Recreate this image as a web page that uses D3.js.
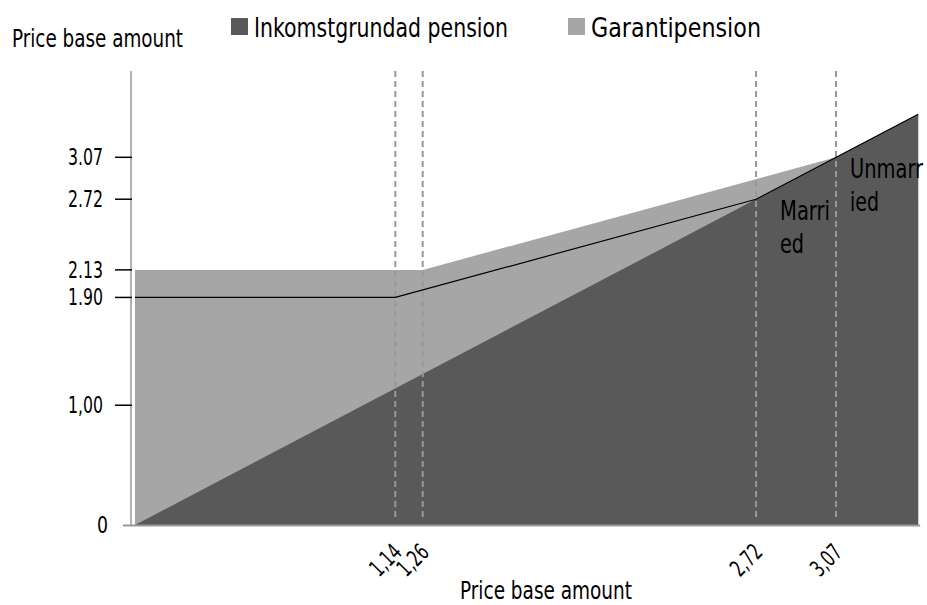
<!DOCTYPE html>
<html><head><meta charset="utf-8">
<script src="https://cdn.jsdelivr.net/npm/d3@7"></script>
<style>
body{margin:0;background:#fff;}
svg text{font-family:"DejaVu Sans Condensed","DejaVu Sans",sans-serif;font-stretch:condensed;fill:#000;}
</style></head>
<body>
<svg id="chart" width="927" height="605"></svg>
<script>
// Data
const xMax = 3.43;
const inkomstgrundad = [[0,0],[3.43,3.43]];
const garanti = [[0,2.13],[1.26,2.13],[3.07,3.07],[3.43,3.43]];
const marriedLine = [[0,1.90],[1.14,1.90],[2.72,2.72],[3.43,3.43]];
const yTicks = [0,1.00,1.90,2.13,2.72,3.07];
const yTickLabels = ["0","1,00","1.90","2.13","2.72","3.07"];
const xTicks = [1.14,1.26,2.72,3.07];
const xTickLabels = ["1,14","1,26","2,72","3,07"];
const seriesNames = ["Inkomstgrundad pension","Garantipension"];
const seriesColors = ["#595959","#a6a6a6"];

const svg = d3.select("#chart");
const x = d3.scaleLinear().domain([0,3.07]).range([135,836]);
const y = d3.scaleLinear().domain([0,3.07]).range([525,157.3]);

function fit(sel, w){ return sel.attr("textLength", w).attr("lengthAdjust","spacingAndGlyphs"); }

const area = d3.area().x(d=>x(d[0])).y0(y(0)).y1(d=>y(d[1]));
svg.append("path").datum(garanti).attr("d",area).attr("fill",seriesColors[1]);
svg.append("path").datum(inkomstgrundad).attr("d",area).attr("fill",seriesColors[0]);

// dashed verticals
svg.selectAll(".vl").data(xTicks).enter().append("line")
  .attr("x1",d=>x(d)).attr("x2",d=>x(d)).attr("y1",71).attr("y2",521)
  .attr("stroke","#999").attr("stroke-width",2).attr("stroke-dasharray","6,4");

// line
svg.append("path").datum(marriedLine)
  .attr("d",d3.line().x(d=>x(d[0])).y(d=>y(d[1])))
  .attr("fill","none").attr("stroke","#000").attr("stroke-width",1.2);

// axes lines
svg.append("line").attr("x1",131).attr("x2",131).attr("y1",71).attr("y2",y(0))
  .attr("stroke","#999").attr("stroke-width",1.5);
svg.append("line").attr("x1",123).attr("x2",x(xMax)+2).attr("y1",y(0)+0.5).attr("y2",y(0)+0.5)
  .attr("stroke","#999").attr("stroke-width",2);

// y ticks
const yt = svg.selectAll(".yt").data(yTicks).enter().append("g")
  .attr("transform",d=>`translate(0,${y(d)})`);
yt.filter(d=>d>0).append("line").attr("x1",115).attr("x2",132).attr("stroke","#000").attr("stroke-width",1.5);
yt.append("text").attr("x",(d,i)=>i===0?108:103).attr("dy","0.35em").attr("text-anchor","end")
  .attr("font-size",23).text((d,i)=>yTickLabels[i])
  .each(function(d,i){ fit(d3.select(this), i===0?11:35); });

// x tick labels
svg.selectAll(".xt").data(xTicks).enter().append("text")
  .attr("transform",d=>`translate(${x(d)+2},${y(0)+23}) rotate(-45)`)
  .attr("text-anchor","end").attr("dy","0.35em").attr("font-size",23)
  .text((d,i)=>xTickLabels[i])
  .each(function(){ fit(d3.select(this), 34); });

// titles
fit(svg.append("text").attr("x",12).attr("y",47).attr("font-size",24).text("Price base amount"),171);
fit(svg.append("text").attr("x",546).attr("y",599).attr("text-anchor","middle").attr("font-size",24).text("Price base amount"),172);

// legend
const legX = [231,568];
const legW = [254,170];
seriesNames.forEach((n,i)=>{
  svg.append("rect").attr("x",legX[i]).attr("y",18).attr("width",17).attr("height",17).attr("fill",seriesColors[i]);
  fit(svg.append("text").attr("x",legX[i]+23).attr("y",37).attr("font-size",27).text(n),legW[i]);
});

// annotations
const ann = [{t:["Marri","ed"],w:[50,24],x:780,yy:[220,253]},{t:["Unmarr","ied"],w:[73,29],x:850,yy:[178,211]}];
ann.forEach(a=>{
  a.t.forEach((s,j)=>fit(svg.append("text").attr("x",a.x).attr("y",a.yy[j]).attr("font-size",27).text(s),a.w[j]));
});
</script>
</body></html>
